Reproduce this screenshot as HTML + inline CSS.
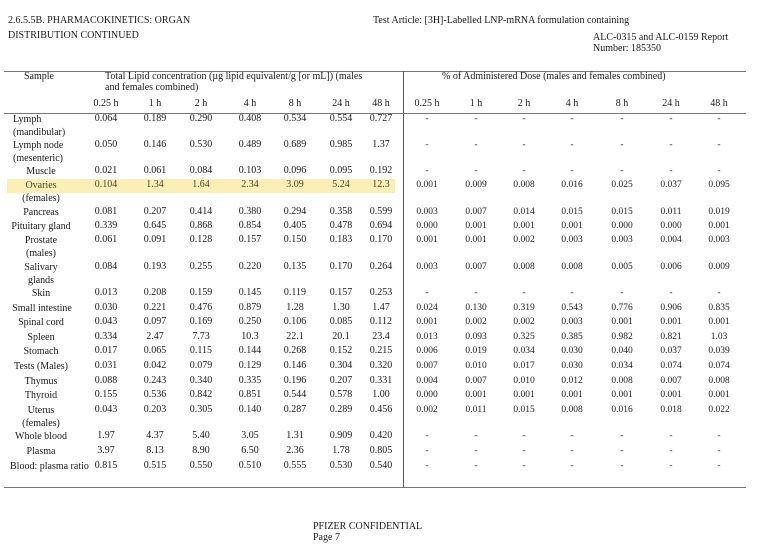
<!DOCTYPE html><html><head><meta charset="utf-8"><style>
body{margin:0;width:768px;height:556px;background:#fff;position:relative;overflow:hidden;font-family:"Liberation Serif",serif;color:#1a1a1a;font-size:10px}
.a{position:absolute;white-space:nowrap;line-height:12px}
.r{position:absolute;left:0;width:768px;height:13px}
.r span{position:absolute;top:0;width:60px;text-align:center;line-height:12px;white-space:nowrap}
.r span:nth-child(1){left:0;width:82px;line-height:13px}
.r span:nth-child(2){left:76px}.r span:nth-child(3){left:125px}.r span:nth-child(4){left:171px}.r span:nth-child(5){left:220px}.r span:nth-child(6){left:265px}.r span:nth-child(7){left:311px}.r span:nth-child(8){left:351px}
.r span:nth-child(n+9){font-size:9.5px;color:#222}
.r span:nth-child(9){left:397px}.r span:nth-child(10){left:446px}.r span:nth-child(11){left:494px}.r span:nth-child(12){left:542px}.r span:nth-child(13){left:592px}.r span:nth-child(14){left:641px}.r span:nth-child(15){left:689px}
.hl{position:absolute;left:7px;top:179px;width:388px;height:14px;background:#fbf0b3}
.hl2{color:#4a4430}
</style></head><body>
<div class="a" style="left:8px;top:15px">2.6.5.5B. PHARMACOKINETICS: ORGAN</div>
<div class="a" style="left:8px;top:30px">DISTRIBUTION CONTINUED</div>
<div class="a" style="left:373px;top:15px">Test Article: [3H]-Labelled LNP-mRNA formulation containing</div>
<div class="a" style="left:593px;top:32px;line-height:11px">ALC-0315 and ALC-0159 Report<br>Number: 185350</div>
<div style="position:absolute;left:4px;top:71px;width:742px;height:1px;background:#777"></div>
<div style="position:absolute;left:4px;top:113px;width:742px;height:1px;background:#777"></div>
<div style="position:absolute;left:4px;top:487px;width:742px;height:1px;background:#777"></div>
<div style="position:absolute;left:403px;top:71px;width:1px;height:417px;background:#555"></div>
<div class="hl"></div>
<div class="a" style="left:24px;top:71px">Sample</div>
<div class="a" style="left:105px;top:71px;line-height:11px">Total Lipid concentration (µg lipid equivalent/g [or mL]) (males<br>and females combined)</div>
<div class="a" style="left:442px;top:71px">% of Administered Dose (males and females combined)</div>
<div class="r" style="top:98px"><span></span><span>0.25 h</span><span>1 h</span><span>2 h</span><span>4 h</span><span>8 h</span><span>24 h</span><span>48 h</span><span style="font-size:10px">0.25 h</span><span style="font-size:10px">1 h</span><span style="font-size:10px">2 h</span><span style="font-size:10px">4 h</span><span style="font-size:10px">8 h</span><span style="font-size:10px">24 h</span><span style="font-size:10px">48 h</span></div>
<div class="r" style="top:113px"><span style="text-align:left;left:13px">Lymph<br>(mandibular)</span><span>0.064</span><span>0.189</span><span>0.290</span><span>0.408</span><span>0.534</span><span>0.554</span><span>0.727</span><span>-</span><span>-</span><span>-</span><span>-</span><span>-</span><span>-</span><span>-</span></div>
<div class="r" style="top:139px"><span style="text-align:left;left:13px">Lymph node<br>(mesenteric)</span><span>0.050</span><span>0.146</span><span>0.530</span><span>0.489</span><span>0.689</span><span>0.985</span><span>1.37</span><span>-</span><span>-</span><span>-</span><span>-</span><span>-</span><span>-</span><span>-</span></div>
<div class="r" style="top:165px"><span>Muscle</span><span>0.021</span><span>0.061</span><span>0.084</span><span>0.103</span><span>0.096</span><span>0.095</span><span>0.192</span><span>-</span><span>-</span><span>-</span><span>-</span><span>-</span><span>-</span><span>-</span></div>
<div class="r hl2" style="top:179px"><span>Ovaries<br><span style="position:static;color:#1a1a1a">(females)</span></span><span>0.104</span><span>1.34</span><span>1.64</span><span>2.34</span><span>3.09</span><span>5.24</span><span>12.3</span><span>0.001</span><span>0.009</span><span>0.008</span><span>0.016</span><span>0.025</span><span>0.037</span><span>0.095</span></div>
<div class="r" style="top:206px"><span>Pancreas</span><span>0.081</span><span>0.207</span><span>0.414</span><span>0.380</span><span>0.294</span><span>0.358</span><span>0.599</span><span>0.003</span><span>0.007</span><span>0.014</span><span>0.015</span><span>0.015</span><span>0.011</span><span>0.019</span></div>
<div class="r" style="top:220px"><span>Pituitary gland</span><span>0.339</span><span>0.645</span><span>0.868</span><span>0.854</span><span>0.405</span><span>0.478</span><span>0.694</span><span>0.000</span><span>0.001</span><span>0.001</span><span>0.001</span><span>0.000</span><span>0.000</span><span>0.001</span></div>
<div class="r" style="top:234px"><span>Prostate<br>(males)</span><span>0.061</span><span>0.091</span><span>0.128</span><span>0.157</span><span>0.150</span><span>0.183</span><span>0.170</span><span>0.001</span><span>0.001</span><span>0.002</span><span>0.003</span><span>0.003</span><span>0.004</span><span>0.003</span></div>
<div class="r" style="top:261px"><span>Salivary<br>glands</span><span>0.084</span><span>0.193</span><span>0.255</span><span>0.220</span><span>0.135</span><span>0.170</span><span>0.264</span><span>0.003</span><span>0.007</span><span>0.008</span><span>0.008</span><span>0.005</span><span>0.006</span><span>0.009</span></div>
<div class="r" style="top:287px"><span>Skin</span><span>0.013</span><span>0.208</span><span>0.159</span><span>0.145</span><span>0.119</span><span>0.157</span><span>0.253</span><span>-</span><span>-</span><span>-</span><span>-</span><span>-</span><span>-</span><span>-</span></div>
<div class="r" style="top:302px"><span style="width:90px;left:-3px">Small intestine</span><span>0.030</span><span>0.221</span><span>0.476</span><span>0.879</span><span>1.28</span><span>1.30</span><span>1.47</span><span>0.024</span><span>0.130</span><span>0.319</span><span>0.543</span><span>0.776</span><span>0.906</span><span>0.835</span></div>
<div class="r" style="top:316px"><span>Spinal cord</span><span>0.043</span><span>0.097</span><span>0.169</span><span>0.250</span><span>0.106</span><span>0.085</span><span>0.112</span><span>0.001</span><span>0.002</span><span>0.002</span><span>0.003</span><span>0.001</span><span>0.001</span><span>0.001</span></div>
<div class="r" style="top:331px"><span>Spleen</span><span>0.334</span><span>2.47</span><span>7.73</span><span>10.3</span><span>22.1</span><span>20.1</span><span>23.4</span><span>0.013</span><span>0.093</span><span>0.325</span><span>0.385</span><span>0.982</span><span>0.821</span><span>1.03</span></div>
<div class="r" style="top:345px"><span>Stomach</span><span>0.017</span><span>0.065</span><span>0.115</span><span>0.144</span><span>0.268</span><span>0.152</span><span>0.215</span><span>0.006</span><span>0.019</span><span>0.034</span><span>0.030</span><span>0.040</span><span>0.037</span><span>0.039</span></div>
<div class="r" style="top:360px"><span>Tests (Males)</span><span>0.031</span><span>0.042</span><span>0.079</span><span>0.129</span><span>0.146</span><span>0.304</span><span>0.320</span><span>0.007</span><span>0.010</span><span>0.017</span><span>0.030</span><span>0.034</span><span>0.074</span><span>0.074</span></div>
<div class="r" style="top:375px"><span>Thymus</span><span>0.088</span><span>0.243</span><span>0.340</span><span>0.335</span><span>0.196</span><span>0.207</span><span>0.331</span><span>0.004</span><span>0.007</span><span>0.010</span><span>0.012</span><span>0.008</span><span>0.007</span><span>0.008</span></div>
<div class="r" style="top:389px"><span>Thyroid</span><span>0.155</span><span>0.536</span><span>0.842</span><span>0.851</span><span>0.544</span><span>0.578</span><span>1.00</span><span>0.000</span><span>0.001</span><span>0.001</span><span>0.001</span><span>0.001</span><span>0.001</span><span>0.001</span></div>
<div class="r" style="top:404px"><span>Uterus<br>(females)</span><span>0.043</span><span>0.203</span><span>0.305</span><span>0.140</span><span>0.287</span><span>0.289</span><span>0.456</span><span>0.002</span><span>0.011</span><span>0.015</span><span>0.008</span><span>0.016</span><span>0.018</span><span>0.022</span></div>
<div class="r" style="top:430px"><span>Whole blood</span><span>1.97</span><span>4.37</span><span>5.40</span><span>3.05</span><span>1.31</span><span>0.909</span><span>0.420</span><span>-</span><span>-</span><span>-</span><span>-</span><span>-</span><span>-</span><span>-</span></div>
<div class="r" style="top:445px"><span>Plasma</span><span>3.97</span><span>8.13</span><span>8.90</span><span>6.50</span><span>2.36</span><span>1.78</span><span>0.805</span><span>-</span><span>-</span><span>-</span><span>-</span><span>-</span><span>-</span><span>-</span></div>
<div class="r" style="top:460px"><span style="text-align:left;left:10px;width:95px">Blood: plasma ratio</span><span>0.815</span><span>0.515</span><span>0.550</span><span>0.510</span><span>0.555</span><span>0.530</span><span>0.540</span><span>-</span><span>-</span><span>-</span><span>-</span><span>-</span><span>-</span><span>-</span></div>
<div class="a" style="left:313px;top:521px;line-height:11px">PFIZER CONFIDENTIAL<br>Page 7</div>
</body></html>
